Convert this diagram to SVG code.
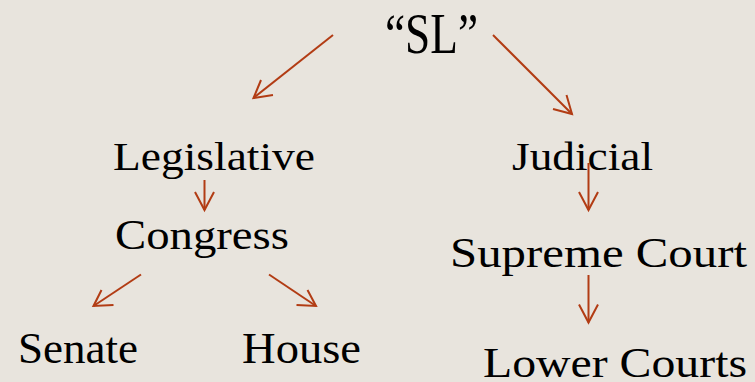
<svg xmlns="http://www.w3.org/2000/svg" width="755" height="382" viewBox="0 0 755 382">
<style>
text{font-family:"Liberation Serif","DejaVu Serif",serif;fill:#000}
.c line,.c polyline{stroke:#B23C14;stroke-width:2;fill:none}
</style>
<rect width="755" height="382" fill="#E8E4DD"/>
<g class="c" id="connectors">
<line x1="333" y1="35" x2="253.5" y2="98"/><polyline points="261,80 253.5,98 273,95"/>
<line x1="493" y1="35" x2="572" y2="114"/><polyline points="566.5,95 572,114 553,109"/>
<line x1="204.5" y1="180" x2="204.5" y2="210"/><polyline points="195,192 204.5,210 214,192"/>
<line x1="141" y1="274.5" x2="93.5" y2="306"/><polyline points="101.5,290 93.5,306 113.5,305"/>
<line x1="269" y1="274.5" x2="316" y2="306"/><polyline points="296.5,305 316,306 307.5,290"/>
<line x1="588.5" y1="163" x2="588.5" y2="210"/><polyline points="579,192 588.5,210 598,192"/>
<line x1="588.5" y1="275" x2="588.5" y2="322.5"/><polyline points="579,304.5 588.5,322.5 598,304.5"/>
</g>
<g id="sl"><text x="385" y="52.5" font-size="58" textLength="93" lengthAdjust="spacingAndGlyphs">“SL”</text></g>
<g id="legislative"><text x="113" y="170" font-size="41" textLength="202" lengthAdjust="spacingAndGlyphs">Legislative</text></g>
<g id="judicial"><text x="512" y="170" font-size="41" textLength="141" lengthAdjust="spacingAndGlyphs">Judicial</text></g>
<g id="congress"><text x="115" y="248.5" font-size="43" textLength="174" lengthAdjust="spacingAndGlyphs">Congress</text></g>
<g id="supreme"><text x="450" y="266.5" font-size="43" textLength="297" lengthAdjust="spacingAndGlyphs">Supreme Court</text></g>
<g id="senate"><text x="18" y="362.5" font-size="44" textLength="120" lengthAdjust="spacingAndGlyphs">Senate</text></g>
<g id="house"><text x="242" y="362.5" font-size="44" textLength="119" lengthAdjust="spacingAndGlyphs">House</text></g>
<g id="lower"><text x="483" y="376.5" font-size="43" textLength="264" lengthAdjust="spacingAndGlyphs">Lower Courts</text></g>
</svg>
